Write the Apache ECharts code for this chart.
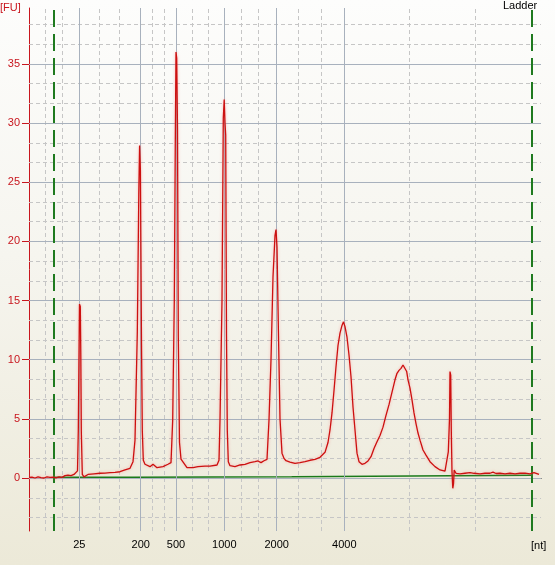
<!DOCTYPE html>
<html>
<head>
<meta charset="utf-8">
<script src="https://cdn.jsdelivr.net/npm/echarts@6/dist/echarts.min.js"></script>
<style>
html,body{margin:0;padding:0;width:555px;height:565px;overflow:hidden;}
body{background:linear-gradient(to bottom,#fdfdfc 0%,#f6f5ef 45%,#ece9d8 100%);}
#chart{width:555px;height:565px;}
</style>
</head>
<body>
<div id="chart"></div>
<script>
// Migration time (s) of the ladder fragments and their size labels
const ladderTimes = [22.03, 28.17, 31.70, 36.53, 41.77, 48.53];
const ladderLabels = ['25', '200', '500', '1000', '2000', '4000'];
// Minor (dashed) vertical grid positions (s)
const minorTimes = [18.67, 20.33, 24.03, 26.06, 29.36, 30.53, 33.33, 34.96, 38.27, 39.97, 43.97, 46.22, 55.03, 61.65];
// Fluorescence tick values
const majorFU = [0, 5, 10, 15, 20, 25, 30, 35];
const minorFU = [-3.333, -1.667, 1.667, 3.333, 6.667, 8.333, 11.667, 13.333, 16.667, 18.333, 21.667, 23.333, 26.667, 28.333, 31.667, 33.333, 36.667, 38.333];
// Lower / upper marker (green dashed) times
const markerTimes = [19.43, 67.23];
// Baseline (green) [time, FU]
const baseline = [[19.43, 0.06], [27.4, 0.11], [43.27, 0.24], [67.23, 0.24]];
// Electropherogram trace [time, FU]
const trace = [
[17.0,0.05],[17.3,0.08],[17.6,0.0],[17.9,0.1],[18.2,0.04],[18.5,0.0],[18.8,0.1],[19.1,0.05],[19.4,0.08],[19.7,0.02],
[20.0,0.1],[20.3,0.05],[20.6,0.2],[20.9,0.25],[21.2,0.2],[21.5,0.3],[21.7,0.25],[21.85,0.6],[21.93,4.0],[22.0,10.4],
[22.05,14.7],[22.13,14.5],[22.18,10.4],[22.23,4.0],[22.33,0.3],[22.5,0.1],[22.9,0.3],[23.5,0.35],[24.1,0.4],[24.6,0.42],
[25.1,0.45],[25.6,0.48],[26.1,0.53],[26.6,0.68],[27.1,0.82],[27.4,1.38],[27.6,3.2],[27.83,12.3],[27.98,24.0],[28.06,28.1],
[28.14,26.0],[28.25,11.4],[28.33,4.0],[28.43,1.5],[28.6,1.16],[29.1,0.96],[29.4,1.16],[29.8,0.87],[30.4,0.96],[30.9,1.16],
[31.2,1.3],[31.37,4.9],[31.53,15.0],[31.63,28.4],[31.7,36.0],[31.77,35.5],[31.85,29.5],[31.93,12.0],[32.05,3.0],[32.2,1.6],
[32.5,1.24],[32.8,0.87],[33.4,0.87],[33.9,0.96],[34.6,1.0],[35.1,1.0],[35.8,1.1],[36.0,1.5],[36.1,4.9],[36.3,15.0],
[36.43,30.4],[36.52,32.0],[36.6,30.0],[36.67,29.0],[36.75,12.0],[36.83,4.0],[36.93,1.38],[37.1,1.04],[37.6,0.96],[38.1,1.1],
[38.6,1.16],[39.1,1.3],[39.6,1.38],[39.9,1.44],[40.2,1.3],[40.5,1.46],[40.8,1.58],[41.0,4.9],[41.2,10.0],[41.4,17.0],
[41.6,20.5],[41.7,21.0],[41.8,19.5],[41.95,12.0],[42.1,5.0],[42.3,2.1],[42.5,1.66],[42.7,1.46],[43.1,1.35],[43.6,1.24],
[44.1,1.3],[44.6,1.38],[45.1,1.5],[45.6,1.58],[46.1,1.75],[46.6,2.17],[46.9,3.0],[47.1,4.06],[47.3,5.5],[47.5,7.4],
[47.7,9.4],[47.9,11.2],[48.1,12.25],[48.3,12.9],[48.45,13.2],[48.6,12.8],[48.8,11.9],[49.0,10.4],[49.2,8.56],[49.4,6.0],
[49.6,4.06],[49.8,2.1],[50.0,1.38],[50.3,1.16],[50.6,1.24],[50.9,1.44],[51.2,1.8],[51.5,2.5],[51.8,3.07],[52.1,3.6],
[52.4,4.3],[52.7,5.3],[53.0,6.2],[53.2,6.9],[53.4,7.6],[53.6,8.3],[53.8,8.85],[54.0,9.1],[54.2,9.27],[54.4,9.55],
[54.6,9.7],[54.77,9.0],[54.9,8.3],[55.1,7.6],[55.3,6.6],[55.5,5.5],[55.7,4.6],[55.9,3.8],[56.1,3.2],[56.4,2.37],
[56.7,1.94],[57.1,1.38],[57.6,0.96],[58.1,0.68],[58.6,0.59],[58.8,0.53],[58.93,2.2],[59.05,5.0],[59.1,9.0],[59.17,8.7],
[59.23,4.0],[59.3,0.5],[59.38,-0.87],[59.45,-0.5],[59.52,0.68],[59.7,0.4],[60.1,0.35],[60.6,0.4],[61.1,0.45],[61.3,0.55],
[61.5,0.4],[62.1,0.35],[62.6,0.4],[63.1,0.4],[63.4,0.5],[63.7,0.38],[64.1,0.4],[64.6,0.35],[65.1,0.4],[65.6,0.35],
[66.1,0.4],[66.6,0.42],[67.1,0.35],[67.5,0.45],[68.0,0.3]
];

const FONT = 'Liberation Sans';
const RED = '#c8161e';

function gridLineSeries(name, xs, ys, style, z) {
  const data = [];
  xs.forEach(v => data.push({ xAxis: v }));
  ys.forEach(v => data.push({ yAxis: v }));
  return {
    name: name, type: 'line', data: [], z: z, silent: true,
    markLine: { silent: true, symbol: ['none', 'none'], label: { show: false },
      lineStyle: style, data: data, animation: false }
  };
}

const chart = echarts.init(document.getElementById('chart'), null, { renderer: 'canvas' });
chart.setOption({
  backgroundColor: 'transparent',
  animation: false,
  grid: { left: 29, right: 14, top: 8, bottom: 34, containLabel: false },
  xAxis: {
    type: 'value', min: 17, max: 68.2,
    axisLine: { show: true, lineStyle: { color: '#000000', width: 1 } },
    axisTick: { show: true, length: 6, customValues: ladderTimes, lineStyle: { color: '#000000' } },
    axisLabel: { show: true, customValues: ladderTimes, margin: 8, color: '#000000',
      fontFamily: FONT, fontSize: 11,
      formatter: function (v) {
        let best = 0, d = Infinity;
        ladderTimes.forEach((t, i) => { if (Math.abs(t - v) < d) { d = Math.abs(t - v); best = i; } });
        return ladderLabels[best];
      } },
    splitLine: { show: false }
  },
  yAxis: {
    type: 'value', min: -4.48, max: 39.73,
    axisLine: { show: true, lineStyle: { color: RED, width: 1 } },
    axisTick: { show: true, length: 7, customValues: majorFU, lineStyle: { color: RED } },
    axisLabel: { show: true, customValues: majorFU, margin: 9, color: RED, fontFamily: FONT, fontSize: 11 },
    splitLine: { show: false }
  },
  graphic: [
    { type: 'text', left: 0, top: 2, style: { text: '[FU]', fill: RED, font: '11px "' + FONT + '"' } },
    { type: 'text', left: 503, top: 0, style: { text: 'Ladder', fill: '#000000', font: '11px "' + FONT + '"' } },
    { type: 'text', left: 531, top: 540, style: { text: '[nt]', fill: '#000000', font: '11px "' + FONT + '"' } }
  ],
  series: [
    gridLineSeries('minor', minorTimes, minorFU, { type: [4, 3], color: '#c6c6c6', width: 1 }, 1),
    gridLineSeries('major', ladderTimes, majorFU, { type: 'solid', color: '#a8b1bd', width: 1 }, 2),
    gridLineSeries('markers', markerTimes, [], { type: [17, 7], color: '#1f7a1f', width: 2 }, 3),
    {
      name: 'baseline', type: 'line', step: 'end', data: baseline, symbol: 'none', z: 4,
      lineStyle: { color: '#1a7a1a', width: 1.5 }, silent: true
    },
    {
      name: 'Ladder', type: 'line', data: trace, symbol: 'none', z: 5, smooth: false,
      lineStyle: { color: '#cc1010', width: 1.3, shadowBlur: 3, shadowColor: 'rgba(255,120,120,0.55)' },
      silent: true
    }
  ]
});
</script>
</body>
</html>
